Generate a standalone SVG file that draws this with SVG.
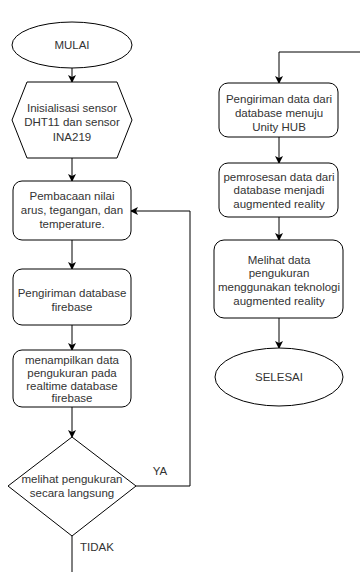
<svg xmlns="http://www.w3.org/2000/svg" width="360" height="572" viewBox="0 0 360 572">
<defs>
<marker id="ah" markerWidth="8" markerHeight="8" refX="7" refY="4" orient="auto" markerUnits="userSpaceOnUse">
<path d="M0,0 L8,4 L0,8 L2,4 z" fill="#000"/>
</marker>
<style>
.s{fill:#fff;stroke:#000;stroke-width:1}
.t{font-family:"Liberation Sans",Arial,sans-serif;font-size:11.5px;fill:#333;text-anchor:middle}
.c{fill:none;stroke:#000;stroke-width:1;marker-end:url(#ah)}
.c2{fill:none;stroke:#000;stroke-width:1}
</style>
</defs>
<rect width="360" height="572" fill="#fff"/>
<g id="connectors">
<path class="c" d="M72,68 V82"/>
<path class="c" d="M72,158 V181"/>
<path class="c" d="M72,240 V269"/>
<path class="c" d="M72,325 V350"/>
<path class="c" d="M72,407 V437"/>
<path class="c" d="M136,486 H190 V211 H131"/>
<path class="c2" d="M72,536 V572"/>
<path class="c" d="M360,52 H279 V83"/>
<path class="c" d="M279,137 V163"/>
<path class="c" d="M279,217 V240"/>
<path class="c" d="M279,318 V348"/>
<text class="t" x="160" y="475">YA</text>
<text class="t" x="97" y="551">TIDAK</text>
</g>
<g id="mulai">
<ellipse class="s" cx="72" cy="45" rx="60" ry="23"/>
<text class="t" x="72" y="49">MULAI</text>
</g>
<g id="inisialisasi">
<polygon class="s" points="27,82 117,82 132,120 117,158 27,158 12,120"/>
<text class="t" x="72" y="112">Inisialisasi sensor</text>
<text class="t" x="72" y="126">DHT11 dan sensor</text>
<text class="t" x="72" y="141">INA219</text>
</g>
<g id="pembacaan">
<rect class="s" x="13" y="181" width="118" height="59" rx="9"/>
<text class="t" x="72" y="200">Pembacaan nilai</text>
<text class="t" x="72" y="214">arus, tegangan, dan</text>
<text class="t" x="72" y="228">temperature.</text>
</g>
<g id="pengiriman">
<rect class="s" x="13" y="269" width="118" height="56" rx="9"/>
<text class="t" x="72" y="297">Pengiriman database</text>
<text class="t" x="72" y="311">firebase</text>
</g>
<g id="menampilkan">
<rect class="s" x="13" y="350" width="118" height="57" rx="9"/>
<text class="t" x="72" y="364">menampilkan data</text>
<text class="t" x="72" y="377">pengukuran pada</text>
<text class="t" x="72" y="390">realtime database</text>
<text class="t" x="72" y="402">firebase</text>
</g>
<g id="keputusan">
<polygon class="s" points="72,437 136,486 72,536 8,486"/>
<text class="t" x="72" y="483">melihat pengukuran</text>
<text class="t" x="72" y="497">secara langsung</text>
</g>
<g id="unity">
<rect class="s" x="219" y="83" width="119" height="54" rx="9"/>
<text class="t" x="279" y="103">Pengiriman data dari</text>
<text class="t" x="279" y="117">database menuju</text>
<text class="t" x="279" y="131">Unity HUB</text>
</g>
<g id="pemrosesan">
<rect class="s" x="219" y="163" width="119" height="54" rx="9"/>
<text class="t" x="279" y="181">pemrosesan data dari</text>
<text class="t" x="279" y="194">database menjadi</text>
<text class="t" x="279" y="208">augmented reality</text>
</g>
<g id="melihat">
<rect class="s" x="214" y="240" width="129" height="78" rx="10"/>
<text class="t" x="279" y="264">Melihat data</text>
<text class="t" x="279" y="277">pengukuran</text>
<text class="t" x="279" y="291">menggunakan teknologi</text>
<text class="t" x="279" y="305">augmented reality</text>
</g>
<g id="selesai">
<ellipse class="s" cx="279" cy="377" rx="64" ry="29"/>
<text class="t" x="279" y="381">SELESAI</text>
</g>
</svg>
